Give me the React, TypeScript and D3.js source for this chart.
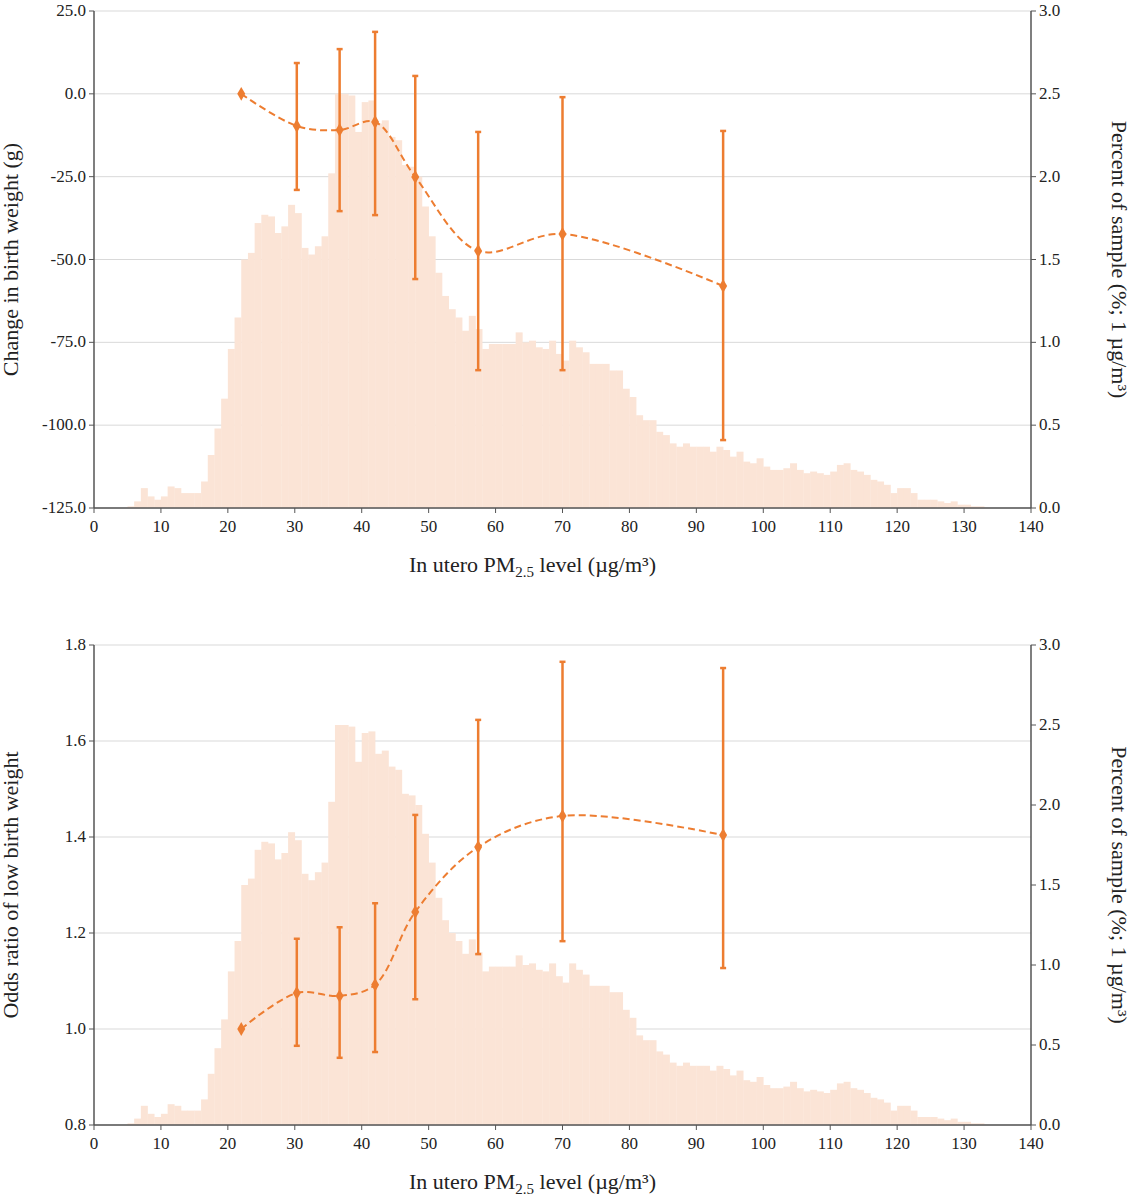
import React from "react";
import * as d3 from "d3";

const histPct = [0,0,0,0,0,0.01,0.04,0.12,0.07,0.05,0.07,0.13,0.12,0.09,0.09,0.09,0.16,0.32,0.48,0.66,0.96,1.15,1.50,1.54,1.72,1.77,1.76,1.66,1.70,1.83,1.78,1.57,1.53,1.58,1.64,2.02,2.50,2.50,2.49,2.27,2.45,2.46,2.32,2.34,2.24,2.22,2.07,2.06,2.00,1.82,1.64,1.42,1.28,1.20,1.15,1.07,1.16,1.08,0.96,0.99,0.99,0.99,0.99,1.06,1.00,1.01,0.97,0.96,1.01,0.93,0.89,1.01,0.97,0.94,0.87,0.87,0.87,0.83,0.83,0.72,0.67,0.56,0.53,0.53,0.46,0.44,0.39,0.37,0.39,0.37,0.37,0.37,0.34,0.37,0.35,0.31,0.34,0.28,0.27,0.30,0.25,0.23,0.23,0.24,0.27,0.23,0.21,0.22,0.21,0.20,0.22,0.26,0.27,0.23,0.22,0.20,0.17,0.16,0.14,0.09,0.12,0.12,0.09,0.05,0.05,0.05,0.04,0.03,0.04,0.02,0.02,0.01,0.01];

const pmX = [22, 30.3, 36.7, 42, 48, 57.4, 70, 94];
const bwEst = [0, -9.7, -10.9, -8.5, -25.1, -47.4, -42.3, -58.0];
const bwHi = [null, 9.3, 13.5, 18.7, 5.4, -11.5, -1.0, -11.2];
const bwLo = [null, -29.0, -35.4, -36.6, -55.9, -83.4, -83.4, -104.5];
const orEst = [1.0, 1.075, 1.069, 1.092, 1.244, 1.379, 1.444, 1.404];
const orHi = [null, 1.188, 1.212, 1.262, 1.446, 1.644, 1.765, 1.752];
const orLo = [null, 0.965, 0.940, 0.952, 1.062, 1.156, 1.183, 1.127];

const xTicks = d3.range(0, 141, 10);
const bwTicks = [25, 0, -25, -50, -75, -100, -125];
const orTicks = [1.8, 1.6, 1.4, 1.2, 1.0, 0.8];
const pctTicks = [0, 0.5, 1, 1.5, 2, 2.5, 3];

const ORANGE = "#ED7D31";
const FILL = "#FBE4D6";
const FONT = "'Liberation Serif', 'Times New Roman', serif";

function Panel({ top, bottom, yDomain, yTicks, fmt, est, hi, lo, yTitle }: any) {
  const left = 94, right = 1031;
  const x = d3.scaleLinear().domain([0, 140]).range([left, right]);
  const y = d3.scaleLinear().domain(yDomain).range([bottom, top]);
  const yr = d3.scaleLinear().domain([0, 3]).range([bottom, top]);
  const line = d3.line<number>().x((_, i) => x(pmX[i])).y(d => y(d)).curve(d3.curveCatmullRom.alpha(0.5));
  const mid = (top + bottom) / 2;
  return (
    <g style={{ fontFamily: FONT }} fill="#222">
      {yTicks.map((t: number) => (
        <line key={"g" + t} x1={left} x2={right} y1={y(t)} y2={y(t)} stroke="#d9d9d9" strokeWidth={1} />
      ))}
      {histPct.map((v, i) => v > 0 && (
        <rect key={"h" + i} x={x(i)} width={x(i + 1) - x(i) + 0.3} y={yr(v)} height={bottom - yr(v)} fill={FILL} />
      ))}
      <line x1={left} x2={left} y1={top} y2={bottom} stroke="#555" strokeWidth={1.5} />
      <line x1={right} x2={right} y1={top} y2={bottom} stroke="#555" strokeWidth={1.5} />
      <line x1={left} x2={right} y1={bottom} y2={bottom} stroke="#555" strokeWidth={1.5} />
      {xTicks.map(t => (
        <g key={"x" + t}>
          <line x1={x(t)} x2={x(t)} y1={bottom} y2={bottom + 5} stroke="#555" />
          <text x={x(t)} y={bottom + 24} textAnchor="middle" fontSize={17}>{t}</text>
        </g>
      ))}
      {yTicks.map((t: number) => (
        <g key={"y" + t}>
          <line x1={left - 5} x2={left} y1={y(t)} y2={y(t)} stroke="#555" />
          <text x={left - 8} y={y(t) + 5} textAnchor="end" fontSize={17}>{fmt(t)}</text>
        </g>
      ))}
      {pctTicks.map(t => (
        <g key={"r" + t}>
          <line x1={right} x2={right + 5} y1={yr(t)} y2={yr(t)} stroke="#555" />
          <text x={right + 8} y={yr(t) + 5} textAnchor="start" fontSize={17}>{t.toFixed(1)}</text>
        </g>
      ))}
      <text x={(left + right) / 2 - 30} y={bottom + 64} textAnchor="middle" fontSize={22}>
        In utero PM<tspan fontSize={15} dy={5}>2.5</tspan><tspan dy={-5}> level (µg/m³)</tspan>
      </text>
      <text transform={`translate(18,${mid}) rotate(-90)`} textAnchor="middle" fontSize={22}>{yTitle}</text>
      <text transform={`translate(1112,${mid}) rotate(90)`} textAnchor="middle" fontSize={22}>Percent of sample (%; 1 µg/m³)</text>
      <path d={line(est) || ""} fill="none" stroke={ORANGE} strokeWidth={2} strokeDasharray="7,4" />
      {est.map((v: number, i: number) => (
        <g key={"e" + i}>
          {hi[i] != null && (
            <g stroke={ORANGE} strokeWidth={2.5}>
              <line x1={x(pmX[i])} x2={x(pmX[i])} y1={y(hi[i])} y2={y(lo[i])} />
              <line x1={x(pmX[i]) - 3} x2={x(pmX[i]) + 3} y1={y(hi[i])} y2={y(hi[i])} />
              <line x1={x(pmX[i]) - 3} x2={x(pmX[i]) + 3} y1={y(lo[i])} y2={y(lo[i])} />
            </g>
          )}
          <path d={d3.symbol(d3.symbolDiamond, 55)() || ""} transform={`translate(${x(pmX[i])},${y(v)})`} fill={ORANGE} />
        </g>
      ))}
    </g>
  );
}

export default function App() {
  return (
    <svg width={1131} height={1200} style={{ position: "absolute", left: 0, top: 0, background: "#fff" }}>
      <rect width={1131} height={1200} fill="#fff" />
      <Panel top={11} bottom={508} yDomain={[-125, 25]} yTicks={bwTicks} fmt={(t: number) => t.toFixed(1)}
        est={bwEst} hi={bwHi} lo={bwLo} yTitle="Change in birth weight (g)" />
      <Panel top={645} bottom={1125} yDomain={[0.8, 1.8]} yTicks={orTicks} fmt={(t: number) => t.toFixed(1)}
        est={orEst} hi={orHi} lo={orLo} yTitle="Odds ratio of low birth weight" />
    </svg>
  );
}
